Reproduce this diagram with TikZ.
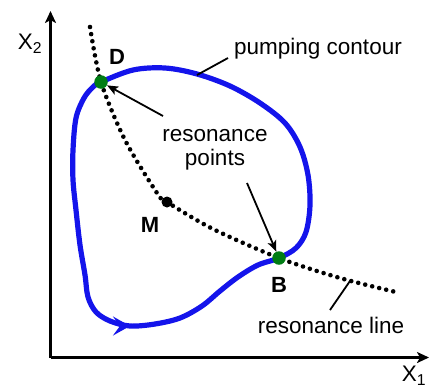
\documentclass[tikz,border=0pt]{standalone}
\usepackage{fontspec}
\setmainfont{Liberation Sans}
\usetikzlibrary{arrows.meta}
\definecolor{contourblue}{RGB}{20,20,235}
\definecolor{ptgreen}{RGB}{0,125,20}
\begin{document}
\begin{tikzpicture}[x=1pt,y=-1pt,
  axis/.style={line width=2.4pt,-{Stealth[length=12pt,width=11pt,inset=3pt]}},
  leader/.style={line width=1.8pt},
  pointer/.style={line width=1.8pt,-{Stealth[length=11pt,width=9pt,inset=2.5pt]}},
  reson/.style={line width=4.6pt,line cap=round,dash pattern=on 0pt off 7.2pt},
  contour/.style={line width=5.2pt,contourblue},
  lbl/.style={font=\fontsize{22.5}{24}\selectfont,inner sep=0pt},
  blbl/.style={font=\fontsize{22}{24}\selectfont\bfseries,inner sep=0pt},
  gdot/.style={circle,fill=ptgreen,minimum size=13.5pt,inner sep=0pt},
  mdot/.style={circle,fill=black,minimum size=11pt,inner sep=0pt}]
\useasboundingbox (0,0) rectangle (430,389);
% axes
\coordinate (O) at (50.5,357.5);
\coordinate (Ytip) at (50.5,11);
\coordinate (Xtip) at (429,357.5);
\draw[axis] (O) -- (Ytip);
\draw[axis] (O) -- (Xtip);
\node[lbl] (x2) at (30,44) {X\textsubscript{2}};
\node[lbl] (x1) at (414,376) {X\textsubscript{1}};
% resonance line
\draw[reson] plot[smooth] coordinates {(90,27) (101,82) (125,140) (157,193) (167,202) (213,229) (279,258) (340,278) (400,293)};
% contour
\draw[contour] plot[smooth cycle,tension=0.55] coordinates {
 (101,82) (133,70) (165,68) (197,74) (230,86) (260,103) (285,123) (300,147)
 (308,175) (310,205) (306,232) (296,248) (279,258) (258,265) (238,277)
 (220,291) (202,306) (180,318) (155,324) (130,326) (110,321) (96,312)
 (88,297) (85,275) (80,245) (76,210) (73,180) (73,150) (76,118) (84,98) (93,87)};
\coordinate (arrS) at (120,326);
\coordinate (arrE) at (130,326);
\draw[contourblue,line width=5.2pt,-{Stealth[length=17pt,width=19pt,inset=7pt]}] (arrS) -- (arrE);
% points
\node[gdot] (D) at (101,82) {};
\node[gdot] (B) at (279,258) {};
\node[mdot] (M) at (167,202) {};
\node[blbl] (Dl) at (117,57) {D};
\node[blbl] (Ml) at (150,225) {M};
\node[blbl] (Bl) at (279,285) {B};
% labels
\node[lbl,anchor=west] (pc) at (234,49) {pumping contour};
\coordinate (pcA) at (197,75);
\coordinate (pcB) at (228,58);
\draw[leader] (pcA) -- (pcB);
\node[lbl,align=center] (rp) at (215,150) {resonance\\points};
\coordinate (rpA) at (163,116);
\coordinate (rpB) at (247,183);
\draw[pointer] (rpA) -- (D);
\draw[pointer] (rpB) -- (B);
\node[lbl] (rl) at (331,325) {resonance line};
\coordinate (rlA) at (350,281);
\coordinate (rlB) at (330,310);
\draw[leader] (rlA) -- (rlB);
\end{tikzpicture}
\end{document}
